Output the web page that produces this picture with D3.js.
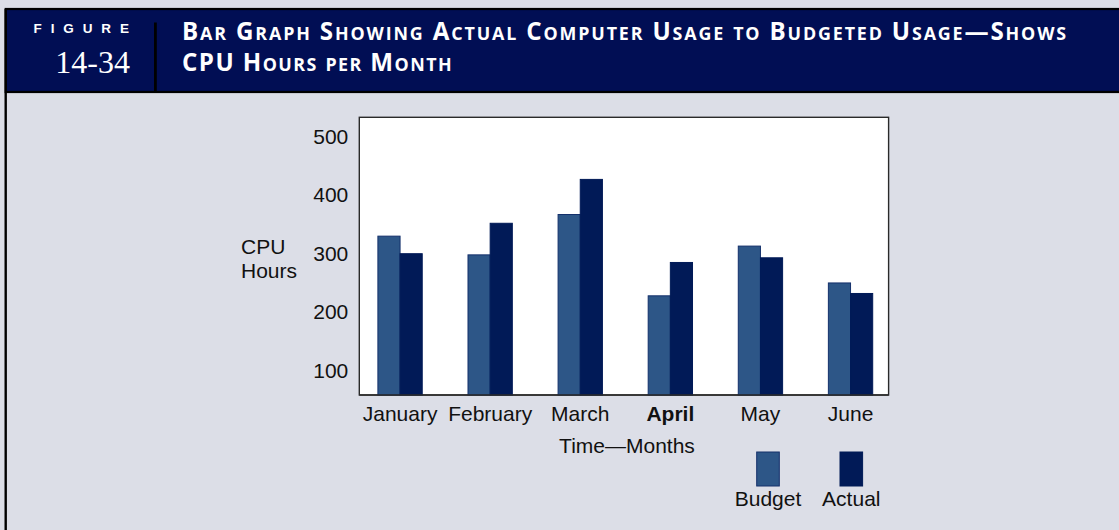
<!DOCTYPE html>
<html>
<head>
<meta charset="utf-8">
<script src="https://cdn.jsdelivr.net/npm/d3@7"></script>
<style>
  body { margin: 0; background: #dcdee7; }
  svg { display: block; }
</style>
</head>
<body>
<svg width="1119" height="530"></svg>
<script>
// chart values
var months = ["January", "February", "March", "April", "May", "June"];
var budget = [330, 298, 367, 228, 313, 250];
var actual = [300, 352, 427, 285, 293, 232];
var yTicks = [100, 200, 300, 400, 500];
var seriesNames = ["Budget", "Actual"];
var titleLines = ["Bar Graph Showing Actual Computer Usage to Budgeted Usage\u2014Shows", "CPU Hours per Month"];
var titleWidths = [886, 271];

var colors = { Budget: "#2d5687", Actual: "#011a57" };
var strokes = { Budget: "#14306b", Actual: "#011a57" };

var svg = d3.select("svg"),
    width = +svg.attr("width"),
    height = +svg.attr("height");

svg.append("rect").attr("width", width).attr("height", height).attr("fill", "#dcdee7");

// header band
svg.append("rect")
  .attr("x", 5.7).attr("y", 9)
  .attr("width", width).attr("height", 83)
  .attr("fill", "#010e54")
  .attr("stroke", "#000").attr("stroke-width", 2.2);
svg.append("line")
  .attr("x1", 5.7).attr("x2", 5.7).attr("y1", 9).attr("y2", height)
  .attr("stroke", "#000").attr("stroke-width", 2.4);
svg.append("line")
  .attr("x1", 155.4).attr("x2", 155.4).attr("y1", 22.5).attr("y2", 91)
  .attr("stroke", "#000").attr("stroke-width", 2.8);

svg.append("text")
  .attr("x", 33.5).attr("y", 33.3)
  .attr("fill", "#fff")
  .style("font-family", "'Liberation Sans', Arial, sans-serif")
  .style("font-weight", "bold")
  .style("font-size", "13.5px")
  .style("letter-spacing", "8.9px")
  .text("FIGURE");

svg.append("text")
  .attr("x", 130).attr("y", 72.7)
  .attr("text-anchor", "end")
  .attr("fill", "#fff")
  .style("font-family", "'Liberation Serif', 'Times New Roman', serif")
  .style("font-size", "32px")
  .text("14-34");

// small caps title built from runs of capitals / lower case
var title = svg.append("g")
  .attr("fill", "#fff")
  .style("font-family", "'Open Sans', Lato, sans-serif")
  .style("font-weight", "bold");

var runs = function(str) {
  var out = [];
  str.split("").forEach(function(ch) {
    var small = ch !== ch.toUpperCase();
    var last = out[out.length - 1];
    if (last && last.small === small) last.t += ch;
    else out.push({ t: ch, small: small });
  });
  return out;
};

var bigSize = 21, smallRatio = 0.74;
var titleText = titleLines.map(function(line, i) {
  var t = title.append("text")
    .attr("x", 182).attr("y", 40 + i * 30.5);
  t.selectAll("tspan")
    .data(runs(line))
    .enter().append("tspan")
    .text(function(d) { return d.t.toUpperCase(); });
  return t;
});
var setSizes = function(s) {
  title.selectAll("tspan")
    .style("font-size", function(d) { return (d.small ? s * smallRatio : s) + "px"; });
};
setSizes(bigSize);
// scale the type so the first line is as wide as in the reference
var fit = titleWidths[0] / titleText[0].node().getComputedTextLength();
setSizes(bigSize * Math.min(fit, 1.15));
titleText.forEach(function(t, i) {
  var w = t.node().getComputedTextLength();
  t.style("letter-spacing", ((titleWidths[i] - w) / titleLines[i].length) + "px");
});

// plot box
var box = { left: 359.3, right: 888.6, top: 117.3, bottom: 395 };

var x = d3.scaleBand()
  .domain(months)
  .range([box.left + 18.6, box.right - 15.9])
  .paddingInner(0.508)
  .paddingOuter(0);

var xs = d3.scaleBand()
  .domain(seriesNames)
  .range([0, x.bandwidth()]);

var y = d3.scaleLinear()
  .domain([100, 500])
  .range([370.7, 136.7]);

var font = "'Liberation Sans', Arial, Helvetica, sans-serif";

svg.append("rect")
  .attr("x", box.left).attr("y", box.top)
  .attr("width", box.right - box.left)
  .attr("height", box.bottom - box.top)
  .attr("fill", "#fff")
  .attr("stroke", "#2a2a2a")
  .attr("stroke-width", 1.4);

var rows = months.map(function(m, i) {
  return { month: m, Budget: budget[i], Actual: actual[i] };
});

var groups = svg.append("g").selectAll("g")
  .data(rows)
  .enter().append("g")
  .attr("transform", function(d) { return "translate(" + x(d.month) + ",0)"; });

groups.selectAll("rect")
  .data(function(d) { return seriesNames.map(function(s) { return { key: s, value: d[s] }; }); })
  .enter().append("rect")
  .attr("x", function(d) { return xs(d.key); })
  .attr("y", function(d) { return y(d.value); })
  .attr("width", xs.bandwidth())
  .attr("height", function(d) { return box.bottom - y(d.value); })
  .attr("fill", function(d) { return colors[d.key]; })
  .attr("stroke", function(d) { return strokes[d.key]; })
  .attr("stroke-width", 1);

// redraw bottom edge over bars
svg.append("line")
  .attr("x1", box.left).attr("x2", box.right)
  .attr("y1", box.bottom).attr("y2", box.bottom)
  .attr("stroke", "#2a2a2a").attr("stroke-width", 1.6);

// y axis labels
var yAxis = svg.append("g")
  .attr("transform", "translate(" + box.left + ",0)")
  .call(d3.axisLeft(y).tickValues(yTicks).tickSize(0).tickPadding(11));
yAxis.select(".domain").remove();
yAxis.selectAll("text")
  .style("font-family", font)
  .style("font-size", "21px")
  .attr("fill", "#111");

// x axis labels
var xAxis = svg.append("g")
  .attr("transform", "translate(0," + box.bottom + ")")
  .call(d3.axisBottom(x).tickSize(0).tickPadding(11));
xAxis.select(".domain").remove();
xAxis.selectAll("text")
  .style("font-family", font)
  .style("font-size", "21px")
  .style("font-weight", function(d) { return d === "April" ? "bold" : "normal"; })
  .attr("fill", "#111");

svg.append("text")
  .attr("x", 627).attr("y", 453)
  .attr("text-anchor", "middle")
  .style("font-family", font).style("font-size", "21px")
  .attr("fill", "#111")
  .text("Time\u2014Months");

var yLabel = svg.append("text")
  .style("font-family", font).style("font-size", "21px")
  .attr("fill", "#111");
yLabel.append("tspan").attr("x", 241).attr("y", 254).text("CPU");
yLabel.append("tspan").attr("x", 241).attr("y", 278.3).text("Hours");

// legend
var legendX = { Budget: 768, Actual: 851.3 };
var legend = svg.append("g").selectAll("g")
  .data(seriesNames)
  .enter().append("g")
  .attr("transform", function(d) { return "translate(" + legendX[d] + ",0)"; });
legend.append("rect")
  .attr("x", -11.3).attr("y", 452)
  .attr("width", 22.6).attr("height", 34)
  .attr("fill", function(d) { return colors[d]; })
  .attr("stroke", function(d) { return strokes[d]; })
  .attr("stroke-width", 1);
legend.append("text")
  .attr("y", 505.5)
  .attr("text-anchor", "middle")
  .style("font-family", font).style("font-size", "21px")
  .attr("fill", "#111")
  .text(function(d) { return d; });
</script>
</body>
</html>
